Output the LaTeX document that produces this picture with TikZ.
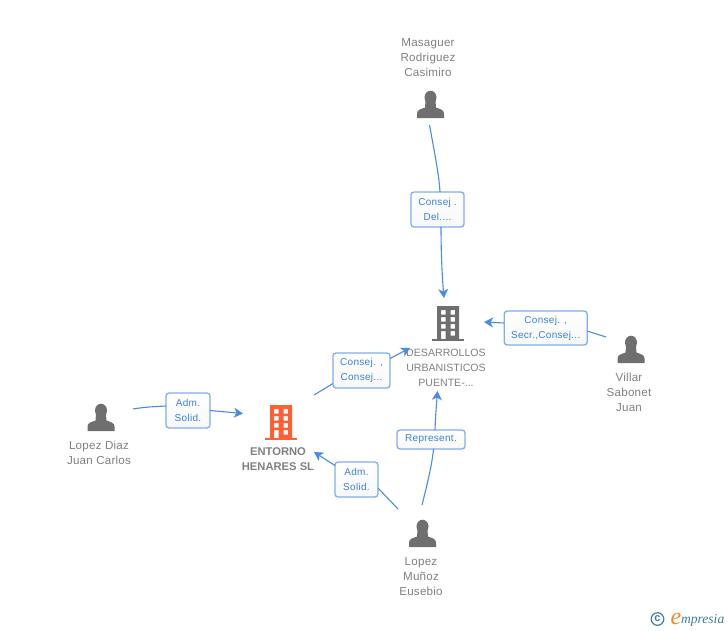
\documentclass[tikz,border=0pt]{standalone}
\usepackage{fontspec}
\setmainfont{Liberation Sans}
\newfontfamily\logofont{Liberation Serif}
\usetikzlibrary{arrows.meta}
\definecolor{txtgray}{HTML}{808080}
\definecolor{icongray}{HTML}{6F6F6F}
\definecolor{linkblue}{HTML}{4A8BE6}
\definecolor{boxblue}{HTML}{7FAEEC}
\definecolor{lbltext}{HTML}{3B7FDD}
\definecolor{orangeb}{HTML}{FF5F33}
\definecolor{logoteal}{HTML}{3F7F99}
\definecolor{logoorange}{HTML}{F08A1C}
\tikzset{
  x=1pt,y=-1pt,
  every node/.style={inner sep=0pt,outer sep=0pt},
  nametext/.style={text=txtgray,align=center,font=\fontsize{11.6}{15}\selectfont\addfontfeatures{LetterSpace=2}},
  capstext/.style={text=txtgray,align=center,font=\fontsize{10.6}{15}\selectfont},
  lbl/.style={draw=boxblue,line width=1.3pt,rounded corners=3pt,top color=white,bottom color=white!97!black,
    text=lbltext,align=center,font=\fontsize{10}{15}\selectfont\addfontfeatures{LetterSpace=3}},
  link/.style={draw=linkblue,line width=1.1pt},
  arrowlink/.style={link,-{Stealth[length=9pt,width=10pt,inset=2.5pt]}},
  pics/person/.style={code={
    \fill[icongray] (0,-7.5) circle[x radius=6,y radius=6.8];
    \fill[icongray] (-13.5,13) -- (-13.5,8.5) .. controls (-13.5,4.5) and (-9,4) .. (-5.5,2.5) -- (-5,-4) -- (5,-4) -- (5.5,2.5) .. controls (9,4) and (13.5,4.5) .. (13.5,8.5) -- (13.5,13) -- cycle;
  }},
  pics/tower/.style={code={
    \fill[#1] (-16,15.5) rectangle (16,18);
    \fill[#1,even odd rule] (-11,-17) rectangle (11,16)
      (-7,-13) rectangle (-2.5,-8.5) (2.5,-13) rectangle (7,-8.5)
      (-7,-6) rectangle (-2.5,-1.5) (2.5,-6) rectangle (7,-1.5)
      (-7,1) rectangle (-2.5,5.5) (2.5,1) rectangle (7,5.5)
      (-7,8) rectangle (-2.5,16) (2.5,8) rectangle (7,12.5);
  }},
}
\begin{document}
\begin{tikzpicture}
\useasboundingbox (0,0) rectangle (728,630);
% icons
\pic at (430.5,105) {person};
\pic at (631,350) {person};
\pic at (101,418) {person};
\pic at (422.5,534) {person};
\pic at (448,323) {tower=icongray};
\pic at (281,422) {tower=orangeb};
% names
\node[nametext] (mas) at (428,57.5) {Masaguer\\Rodriguez\\Casimiro};
\node[nametext] (vil) at (629,392.5) {Villar\\Sabonet\\Juan};
\node[nametext] (diaz) at (99,453) {Lopez Diaz\\Juan Carlos};
\node[capstext,font=\fontsize{11.2}{15}\selectfont\bfseries] (ent) at (278,459) {ENTORNO\\HENARES SL};
\node[capstext] (des) at (446,367.5) {DESARROLLOS\\URBANISTICOS\\PUENTE-...};
\node[nametext] (mun) at (421,576.5) {Lopez\\Muñoz\\Eusebio};
% labels
\node[lbl,minimum width=53pt,minimum height=35pt] (l1) at (437.5,209.5) {Consej .\\Del....};
\node[lbl,minimum width=83pt,minimum height=34pt] (l2) at (545.7,328) {Consej. ,\\Secr.,Consej...};
\node[lbl,minimum width=44pt,minimum height=35pt] (l3) at (188,410.5) {Adm.\\Solid.};
\node[lbl,minimum width=57pt,minimum height=35pt] (l4) at (361.5,370.5) {Consej. ,\\Consej...};
\node[lbl,minimum width=43pt,minimum height=35pt] (l5) at (356.5,479.5) {Adm.\\Solid.};
\node[lbl,minimum width=68pt,minimum height=19pt] (l6) at (431,439.5) {Represent.};
% free ends
\coordinate (s1) at (429.5,125);
\coordinate (t1) at (444,298);
\coordinate (s2) at (606,337);
\coordinate (t2) at (484,322);
\coordinate (s3) at (133,409);
\coordinate (t3) at (243,413.5);
\coordinate (s4) at (314,395);
\coordinate (t4) at (410,348);
\coordinate (s5) at (398,509);
\coordinate (t5) at (314,452);
\coordinate (s6) at (422,505);
\coordinate (t6) at (437.5,391);
% connectors
\draw[link] (s1) .. controls (435,155) and (439,175) .. ([xshift=2.5pt]l1.north);
\draw[arrowlink] ([xshift=3.5pt]l1.south) .. controls (441,250) and (442,275) .. (t1);
\draw[link] (s2) -- ([yshift=-3pt]l2.east);
\draw[arrowlink] ([yshift=5pt]l2.west) -- (t2);
\draw[link] (s3) .. controls (145,407) and (155,406.5) .. ([yshift=4.5pt]l3.west);
\draw[arrowlink] (l3.east) -- (t3);
\draw[link] (s4) -- ([yshift=-13pt]l4.west);
\draw[arrowlink] ([yshift=12pt]l4.east) -- (t4);
\draw[link] (s5) -- ([yshift=-8.5pt]l5.east);
\draw[arrowlink] ([yshift=14pt]l5.west) -- (t5);
\draw[link] (s6) .. controls (427,485) and (432,465) .. ([xshift=2.5pt]l6.south);
\draw[arrowlink] ([xshift=4pt]l6.north) .. controls (435.5,415) and (436.5,405) .. (t6);
% logo
\draw[logoteal,line width=1.2pt] (657.5,619) circle[radius=6.3];
\node[text=logoteal,font=\fontsize{11}{11}\selectfont\bfseries] (copy) at (657.5,618.5) {c};
\node[anchor=base west,text=logoorange,font=\logofont\fontsize{24}{24}\selectfont\itshape] (logoe) at (670.5,624) {e};
\node[anchor=base west,text=logoteal,font=\logofont\fontsize{13.6}{14}\selectfont\itshape] (logot) at (681,623.5) {mpresia};
\end{tikzpicture}
\end{document}
